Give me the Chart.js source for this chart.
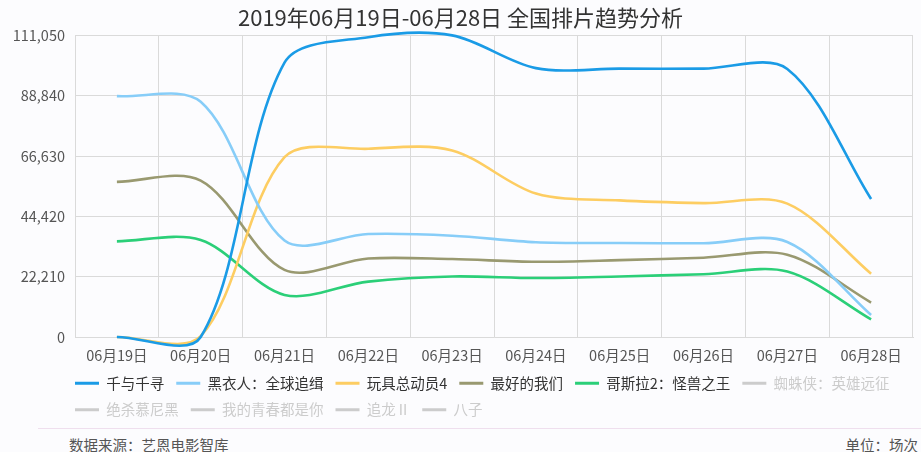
<!DOCTYPE html>
<html>
<head>
<meta charset="utf-8">
<script src="https://cdn.jsdelivr.net/npm/chart.js@4"></script>
<style>
  html, body { margin: 0; padding: 0; background: #fcfcfe; }
  body { width: 921px; height: 452px; position: relative; overflow: hidden; font-family: "Noto Sans CJK SC", sans-serif; }
  #box { position: absolute; left: 0; top: 0; width: 921px; height: 428px; }
  #rule { position: absolute; left: 38px; right: 0; top: 428px; height: 1px; background: #efdfee; }
  .foot { position: absolute; top: 436px; font-size: 14.5px; color: #555; line-height: 18px; }
</style>
</head>
<body>
<div id="box"><canvas id="trend"></canvas></div>
<div id="rule"></div>
<div class="foot" style="left:69px">数据来源：艺恩电影智库</div>
<div class="foot" style="right:3px">单位：场次</div>
<script>
// 排片场次（10天）
const dates = ['06月19日', '06月20日', '06月21日', '06月22日', '06月23日', '06月24日', '06月25日', '06月26日', '06月27日', '06月28日'];
const yTicks = [0, 22210, 44420, 66630, 88840, 111050];

const qianYuQianXun = [0, 0, 101000, 110400, 111050, 99000, 98800, 98800, 98700, 50800];
const heiYiRen = [88700, 86600, 35500, 37900, 37300, 34900, 34600, 34500, 35000, 8100];
const wanJuZongDongYuan = [0, 300, 66200, 69300, 68700, 52800, 50300, 49300, 49100, 23300];
const zuiHaoDeWoMen = [57100, 57600, 24700, 28900, 28700, 27700, 28300, 29200, 30300, 12700];
const geSiLa = [35200, 35700, 15500, 20400, 22300, 21700, 22300, 23100, 24100, 6500];

const movieNames = ['千与千寻', '黑衣人：全球追缉', '玩具总动员4', '最好的我们', '哥斯拉2：怪兽之王',
    '蜘蛛侠：英雄远征', '绝杀慕尼黑', '我的青春都是你', '追龙Ⅱ', '八子'];
const movieColors = ['#1a9be6', '#87cdf8', '#fdcd62', '#999970', '#2bcf78',
    '#cccccc', '#cccccc', '#cccccc', '#cccccc', '#cccccc'];
const movieData = [qianYuQianXun, heiYiRen, wanJuZongDongYuan, zuiHaoDeWoMen, geSiLa, [], [], [], [], []];
const hiddenFrom = 5;   // 后面几部在图例里是未选中状态

Chart.defaults.font.family = "'Noto Sans CJK SC', sans-serif";

// 图例整体往右挪，标题仍然居中
const shiftLegend = {
    id: 'shiftLegend',
    afterLayout(chart) {
        chart.legend.left += 55;
    }
};

new Chart(document.getElementById('trend'), {
    type: 'line',
    data: {
        labels: dates,
        datasets: movieNames.map((name, i) => ({
            label: name,
            data: movieData[i],
            borderColor: movieColors[i],
            backgroundColor: movieColors[i],
            borderWidth: 2.6,
            pointRadius: 0,
            tension: 0.32,
            fill: false,
            clip: false,
            hidden: i >= hiddenFrom
        }))
    },
    options: {
        responsive: true,
        maintainAspectRatio: false,
        animation: false,
        layout: { padding: { left: 8, right: 8, top: 0, bottom: 1 } },
        elements: { line: { capBezierPoints: false } },
        plugins: {
            title: {
                display: true,
                text: '2019年06月19日-06月28日 全国排片趋势分析',
                color: '#333',
                font: { size: 22, weight: 'normal' },
                padding: { top: 4, bottom: 5 }
            },
            legend: {
                position: 'bottom',
                align: 'start',
                labels: {
                    boxWidth: 24,
                    boxHeight: 3,
                    padding: 12,
                    color: '#333',
                    font: { size: 14.5 },
                    generateLabels(chart) {
                        return chart.data.datasets.map((ds, i) => ({
                            text: ds.label,
                            fillStyle: movieColors[i],
                            strokeStyle: movieColors[i],
                            lineWidth: 0,
                            fontColor: i >= hiddenFrom ? '#cccccc' : '#333333',
                            hidden: false,
                            datasetIndex: i
                        }));
                    }
                },
                onClick() {}
            },
            tooltip: { enabled: false }
        },
        scales: {
            x: {
                offset: true,
                grid: { offset: true, color: '#dadada', drawTicks: false },
                border: { color: '#dadada' },
                ticks: { color: '#555', font: { size: 14.5 }, padding: 10, maxRotation: 0 },
                afterFit(scale) { scale.height = 27; }
            },
            y: {
                min: 0,
                max: 111050,
                afterBuildTicks(scale) { scale.ticks = yTicks.map(v => ({ value: v })); },
                grid: { color: '#dadada', drawTicks: false },
                border: { color: '#dadada' },
                ticks: {
                    color: '#555',
                    font: { size: 14.5 },
                    padding: 10,
                    callback: v => v.toLocaleString('en-US')
                },
                afterFit(scale) { scale.width = 67; }
            }
        }
    },
    plugins: [shiftLegend]
});
</script>
</body>
</html>
